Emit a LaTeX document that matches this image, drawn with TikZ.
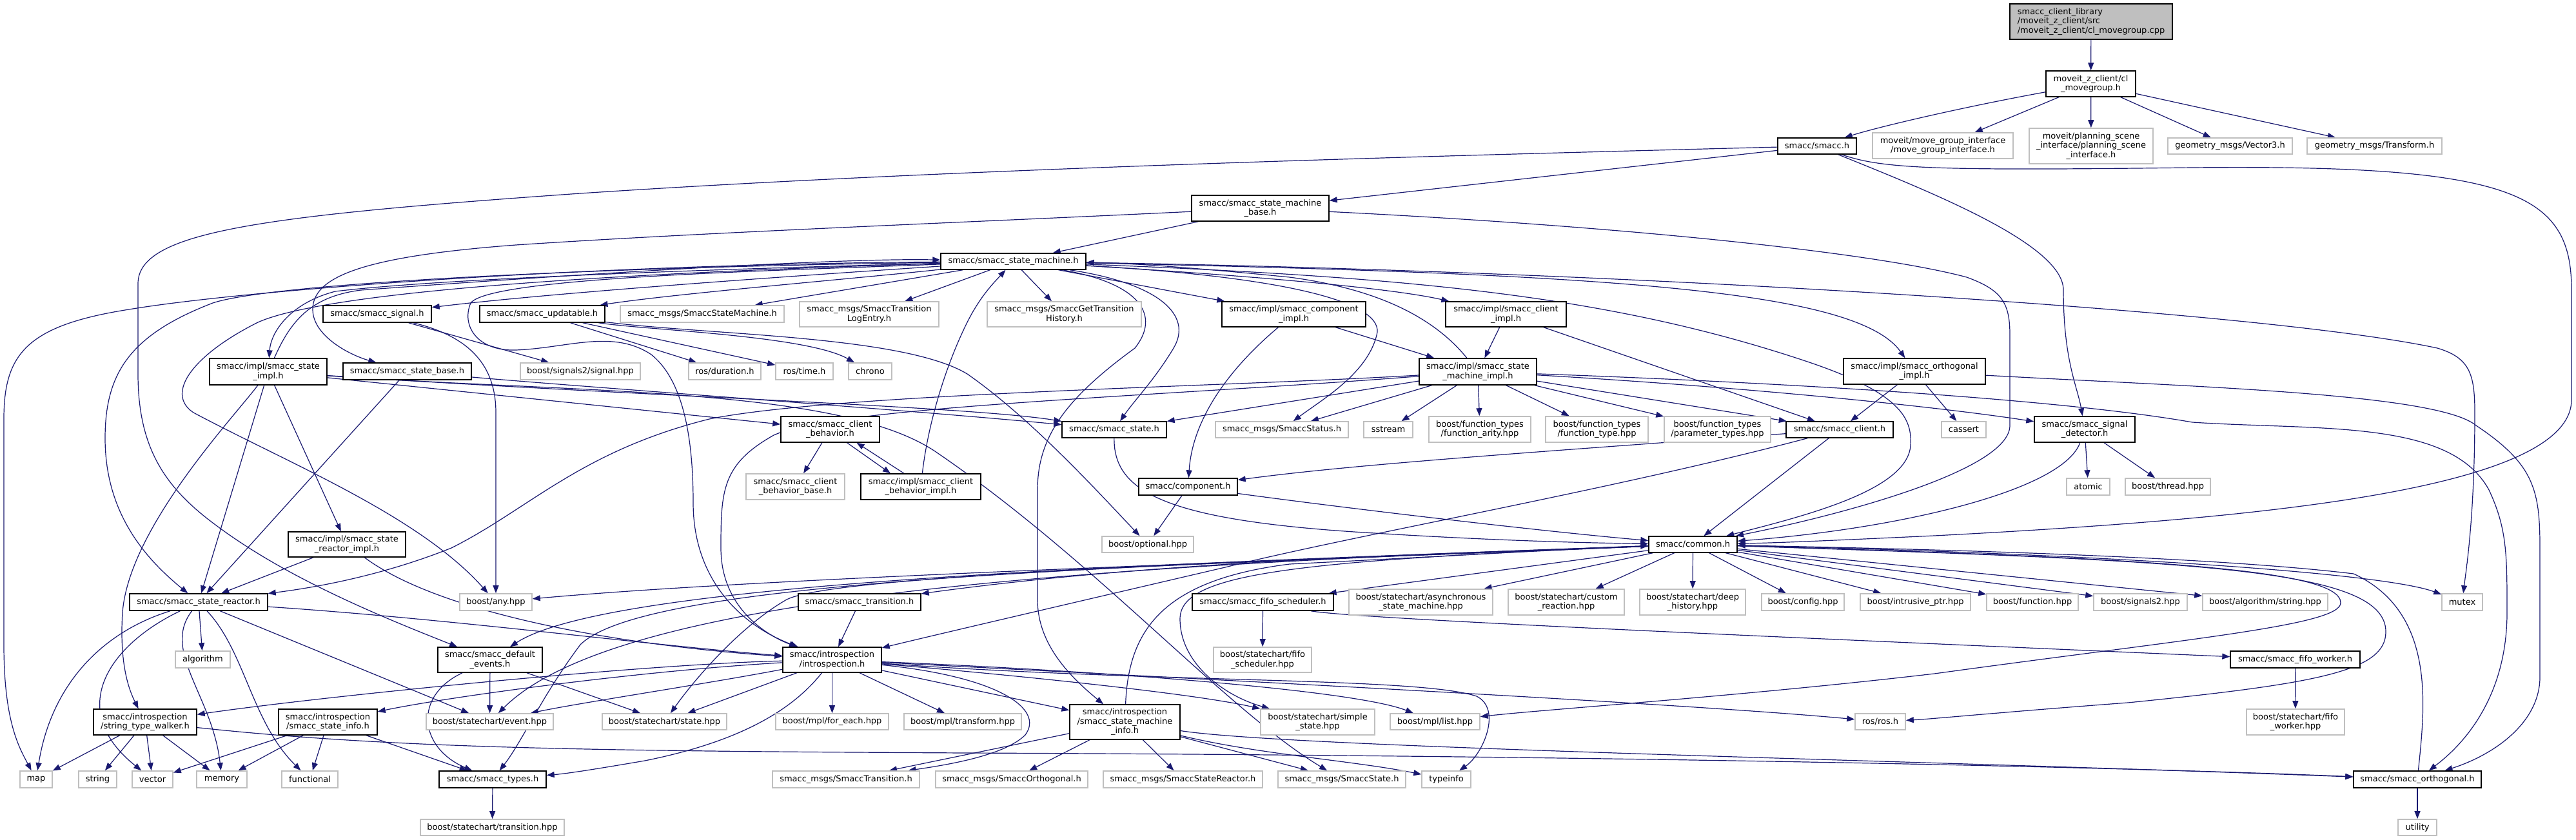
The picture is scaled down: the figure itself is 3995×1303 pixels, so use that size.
\documentclass[tikz,border=0pt]{standalone}
\usepackage{fontspec}
\setmainfont{DejaVu Sans}
\usetikzlibrary{arrows.meta}
\definecolor{edgec}{HTML}{191970}
\definecolor{greyb}{HTML}{BFBFBF}
\pgfdeclarelayer{background}
\pgfsetlayers{background,main}
\newcommand\nd[7]{%
 \pgfmathsetmacro\ndw{#5-#3}\pgfmathsetmacro\ndh{#6-#4}%
 \pgfmathsetmacro\ndx{(#3+#5)/2}\pgfmathsetmacro\ndy{(#4+#6)/2}%
 \node[#2,minimum width=\ndw pt,minimum height=\ndh pt] (#1) at (\ndx,\ndy) {#7};}
\begin{document}
\begin{tikzpicture}[x=1pt,y=-1pt,
  bx/.style={draw=black,line width=1.4pt,fill=white,inner sep=0pt,align=center,font=\fontsize{13pt}{14.5pt}\selectfont},
  gb/.style={draw=greyb,line width=1.6pt,fill=white,inner sep=0pt,align=center,font=\fontsize{13pt}{14.5pt}\selectfont},
  rootb/.style={draw=black,line width=1.4pt,fill=greyb,inner sep=0pt,align=left,font=\fontsize{13pt}{14.5pt}\selectfont},
  edg/.style={draw=edgec,line width=1.2pt,-{Triangle[length=12pt,width=9pt]}}]
\useasboundingbox (0,0) rectangle (3995,1303);
% nodes
\nd{root}{rootb}{3117}{6}{3369}{61}{smacc\_client\_library\\/moveit\_z\_client/src\\/moveit\_z\_client/cl\_movegroup.cpp}
\nd{clmg}{bx}{3173}{110}{3312}{150}{moveit\_z\_client/cl\\\_movegroup.h}
\nd{smacch}{bx}{2757}{214}{2879}{239}{smacc/smacc.h}
\nd{mgi}{gb}{2904}{206}{3122}{246}{moveit/move\_group\_interface\\/move\_group\_interface.h}
\nd{psi}{gb}{3147}{199}{3339}{254}{moveit/planning\_scene\\\_interface/planning\_scene\\\_interface.h}
\nd{vec}{gb}{3362}{214}{3555}{239}{geometry\_msgs/Vector3.h}
\nd{tf}{gb}{3578}{214}{3787}{239}{geometry\_msgs/Transform.h}
\nd{smb}{bx}{1848}{303}{2061}{343}{smacc/smacc\_state\_machine\\\_base.h}
\nd{sm}{bx}{1459}{393}{1684}{418}{smacc/smacc\_state\_machine.h}
\nd{signal}{bx}{501}{474}{669}{500}{smacc/smacc\_signal.h}
\nd{updatable}{bx}{744}{474}{938}{500}{smacc/smacc\_updatable.h}
\nd{ssm}{gb}{962}{474}{1216}{500}{smacc\_msgs/SmaccStateMachine.h}
\nd{tle}{gb}{1240}{468}{1456}{507}{smacc\_msgs/SmaccTransition\\LogEntry.h}
\nd{gth}{gb}{1531}{468}{1770}{507}{smacc\_msgs/SmaccGetTransition\\History.h}
\nd{compimpl}{bx}{1895}{468}{2118}{507}{smacc/impl/smacc\_component\\\_impl.h}
\nd{clientimpl}{bx}{2242}{468}{2429}{507}{smacc/impl/smacc\_client\\\_impl.h}
\nd{orthimpl}{bx}{2859}{556}{3079}{596}{smacc/impl/smacc\_orthogonal\\\_impl.h}
\nd{stateimpl}{bx}{325}{556}{507}{597}{smacc/impl/smacc\_state\\\_impl.h}
\nd{sbase}{bx}{532}{563}{731}{589}{smacc/smacc\_state\_base.h}
\nd{sig2}{gb}{807}{563}{993}{589}{boost/signals2/signal.hpp}
\nd{dur}{gb}{1068}{563}{1180}{589}{ros/duration.h}
\nd{time}{gb}{1203}{563}{1292}{589}{ros/time.h}
\nd{chrono}{gb}{1316}{563}{1383}{589}{chrono}
\nd{smi}{bx}{2201}{556}{2383}{597}{smacc/impl/smacc\_state\\\_machine\_impl.h}
\nd{cb}{bx}{1211}{646}{1364}{686}{smacc/smacc\_client\\\_behavior.h}
\nd{state}{bx}{1647}{654}{1809}{679}{smacc/smacc\_state.h}
\nd{status}{gb}{1885}{654}{2091}{679}{smacc\_msgs/SmaccStatus.h}
\nd{sstream}{gb}{2115}{654}{2191}{679}{sstream}
\nd{farity}{gb}{2216}{646}{2374}{686}{boost/function\_types\\/function\_arity.hpp}
\nd{ftype}{gb}{2397}{646}{2556}{686}{boost/function\_types\\/function\_type.hpp}
\nd{ptypes}{gb}{2581}{646}{2746}{686}{boost/function\_types\\/parameter\_types.hpp}
\nd{client}{bx}{2770}{654}{2936}{679}{smacc/smacc\_client.h}
\nd{cassert}{gb}{3011}{654}{3080}{679}{cassert}
\nd{sigdet}{bx}{3155}{646}{3311}{686}{smacc/smacc\_signal\\\_detector.h}
\nd{cbbase}{gb}{1157}{735}{1310}{775}{smacc/smacc\_client\\\_behavior\_base.h}
\nd{cbimpl}{bx}{1335}{735}{1521}{775}{smacc/impl/smacc\_client\\\_behavior\_impl.h}
\nd{component}{bx}{1766}{742}{1919}{768}{smacc/component.h}
\nd{atomic}{gb}{3205}{742}{3272}{768}{atomic}
\nd{thread}{gb}{3296}{742}{3428}{768}{boost/thread.hpp}
\nd{optional}{gb}{1709}{832}{1851}{857}{boost/optional.hpp}
\nd{common}{bx}{2557}{832}{2694}{857}{smacc/common.h}
\nd{sreactorimpl}{bx}{447}{825}{629}{864}{smacc/impl/smacc\_state\\\_reactor\_impl.h}
\nd{sreactor}{bx}{201}{921}{415}{947}{smacc/smacc\_state\_reactor.h}
\nd{any}{gb}{713}{921}{825}{947}{boost/any.hpp}
\nd{transition}{bx}{1238}{921}{1428}{947}{smacc/smacc\_transition.h}
\nd{fifosch}{bx}{1849}{921}{2068}{947}{smacc/smacc\_fifo\_scheduler.h}
\nd{async}{gb}{2092}{914}{2315}{954}{boost/statechart/asynchronous\\\_state\_machine.hpp}
\nd{custom}{gb}{2339}{914}{2519}{954}{boost/statechart/custom\\\_reaction.hpp}
\nd{deep}{gb}{2543}{914}{2707}{954}{boost/statechart/deep\\\_history.hpp}
\nd{config}{gb}{2732}{921}{2860}{947}{boost/config.hpp}
\nd{intrusive}{gb}{2885}{921}{3056}{947}{boost/intrusive\_ptr.hpp}
\nd{function}{gb}{3081}{921}{3223}{947}{boost/function.hpp}
\nd{signals}{gb}{3247}{921}{3392}{947}{boost/signals2.hpp}
\nd{algstr}{gb}{3416}{921}{3610}{947}{boost/algorithm/string.hpp}
\nd{mutex}{gb}{3787}{921}{3850}{947}{mutex}
\nd{algorithm}{gb}{272}{1010}{357}{1036}{algorithm}
\nd{defev}{bx}{679}{1004}{841}{1043}{smacc/smacc\_default\\\_events.h}
\nd{intro}{bx}{1214}{1004}{1367}{1043}{smacc/introspection\\/introspection.h}
\nd{fifoschhpp}{gb}{1882}{1004}{2034}{1043}{boost/statechart/fifo\\\_scheduler.hpp}
\nd{fifoworker}{bx}{3459}{1010}{3660}{1036}{smacc/smacc\_fifo\_worker.h}
\nd{walker}{bx}{145}{1100}{305}{1140}{smacc/introspection\\/string\_type\_walker.h}
\nd{sinfo}{bx}{432}{1100}{585}{1140}{smacc/introspection\\/smacc\_state\_info.h}
\nd{event}{gb}{661}{1107}{858}{1132}{boost/statechart/event.hpp}
\nd{statehpp}{gb}{934}{1107}{1127}{1132}{boost/statechart/state.hpp}
\nd{foreach}{gb}{1203}{1107}{1378}{1132}{boost/mpl/for\_each.hpp}
\nd{transformhpp}{gb}{1402}{1107}{1584}{1132}{boost/mpl/transform.hpp}
\nd{sminfo}{bx}{1659}{1093}{1830}{1147}{smacc/introspection\\/smacc\_state\_machine\\\_info.h}
\nd{simple}{gb}{1955}{1100}{2132}{1140}{boost/statechart/simple\\\_state.hpp}
\nd{list}{gb}{2156}{1107}{2295}{1132}{boost/mpl/list.hpp}
\nd{ros}{gb}{2877}{1107}{2955}{1132}{ros/ros.h}
\nd{fifoworkerhpp}{gb}{3484}{1100}{3636}{1140}{boost/statechart/fifo\\\_worker.hpp}
\nd{map}{gb}{31}{1196}{81}{1222}{map}
\nd{string}{gb}{122}{1196}{181}{1222}{string}
\nd{vector}{gb}{205}{1196}{268}{1222}{vector}
\nd{memory}{gb}{305}{1196}{383}{1222}{memory}
\nd{functional}{gb}{437}{1196}{524}{1222}{functional}
\nd{types}{bx}{681}{1196}{847}{1222}{smacc/smacc\_types.h}
\nd{smtrans}{gb}{1198}{1196}{1426}{1222}{smacc\_msgs/SmaccTransition.h}
\nd{smorth}{gb}{1451}{1196}{1687}{1222}{smacc\_msgs/SmaccOrthogonal.h}
\nd{smreactor}{gb}{1711}{1196}{1958}{1222}{smacc\_msgs/SmaccStateReactor.h}
\nd{smstate}{gb}{1982}{1196}{2180}{1222}{smacc\_msgs/SmaccState.h}
\nd{typeinfo}{gb}{2205}{1196}{2281}{1222}{typeinfo}
\nd{orth}{bx}{3650}{1196}{3848}{1222}{smacc/smacc\_orthogonal.h}
\nd{transhpp}{gb}{652}{1271}{875}{1296}{boost/statechart/transition.hpp}
\nd{utility}{gb}{3719}{1271}{3779}{1296}{utility}
\begin{pgfonlayer}{background}
\fill[white] (0,0) rectangle (3995,1303);
% top
\draw[edg] (root) -- (clmg);
\draw[edg] (clmg) .. controls (3050,165) and (2920,195) .. (smacch);
\draw[edg] (clmg) -- (mgi);
\draw[edg] (clmg) -- (psi);
\draw[edg] (clmg) -- (vec);
\draw[edg] (clmg) -- (tf);
\draw[edg] (smacch) -- (smb);
\draw[edg] (smacch) .. controls (2300,240) and (1500,260) .. (900,300) .. controls (400,335) and (214,360) .. (214,440) -- (214,580) .. controls (214,700) and (260,760) .. (338,817) .. controls (450,900) and (600,960) .. (defev);
\draw[edg] (smacch) .. controls (3000,300) and (3200,380) .. (3200,450) .. controls (3200,560) and (3222,600) .. (sigdet);
\draw[edg] (smacch) .. controls (2920,262) and (3000,265) .. (3400,260) .. controls (3900,255) and (3988,300) .. (3988,450) -- (3988,620) .. controls (3988,760) and (3500,805) .. (3000,831) .. controls (2850,838) and (2760,842) .. (common);
\draw[edg] (smb) -- (sm);
\draw[edg] (smb) .. controls (1500,345) and (1100,360) .. (800,380) .. controls (560,398) and (485,430) .. (485,480) .. controls (485,520) and (540,550) .. (sbase);
\draw[edg] (smb) .. controls (2500,350) and (2900,390) .. (3050,430) .. controls (3105,450) and (3117,470) .. (3117,520) -- (3117,660) .. controls (3117,730) and (2850,800) .. (common);
% state machine
\draw[edg] (sm) .. controls (1200,430) and (850,455) .. (signal);
\draw[edg] (sm) .. controls (1350,430) and (1050,455) .. (updatable);
\draw[edg] (sm) -- (ssm);
\draw[edg] (sm) -- (tle);
\draw[edg] (sm) -- (gth);
\draw[edg] (sm) -- (compimpl);
\draw[edg] (sm) .. controls (1900,425) and (2150,445) .. (clientimpl);
\draw[edg] (sm) .. controls (2500,425) and (2880,450) .. (orthimpl);
\draw[edg] (sm) .. controls (1200,415) and (700,430) .. (520,452) .. controls (450,470) and (420,515) .. (stateimpl);
\draw[edg] (sm) .. controls (1800,440) and (1850,490) .. (1820,540) .. controls (1790,590) and (1760,620) .. (state);
\draw[edg] (sm) .. controls (2000,430) and (2150,470) .. (2135,520) .. controls (2120,580) and (2050,620) .. (status);
\draw[edg] (sm) .. controls (1770,440) and (1800,490) .. (1760,540) .. controls (1650,620) and (1609,680) .. (1609,760) -- (1609,930) .. controls (1609,1000) and (1660,1050) .. (sminfo);
\draw[edg] (sm) .. controls (900,410) and (380,450) .. (200,480) .. controls (40,505) and (6,550) .. (6,650) -- (6,1000) .. controls (6,1120) and (30,1160) .. (map);
\draw[edg] (sm) .. controls (900,415) and (420,440) .. (330,470) .. controls (200,520) and (163,580) .. (163,680) .. controls (163,800) and (230,870) .. (sreactor);
\draw[edg] (sm) .. controls (900,425) and (500,455) .. (400,500) .. controls (300,550) and (255,610) .. (300,640) .. controls (450,720) and (650,800) .. (any);
\draw[edg] (sm) .. controls (2500,420) and (3500,480) .. (3780,540) .. controls (3830,555) and (3838,580) .. (3838,640) .. controls (3838,800) and (3825,880) .. (mutex);
\draw[edg] (sm) .. controls (2200,430) and (2500,460) .. (2800,560) .. controls (2950,610) and (2965,650) .. (2963,690) .. controls (2960,760) and (2800,800) .. (common);
\draw[edg] (sm) .. controls (1200,420) and (760,430) .. (730,470) .. controls (715,505) and (740,545) .. (800,543) .. controls (880,540) and (950,510) .. (1010,550) .. controls (1060,590) and (1075,680) .. (1075,780) .. controls (1075,900) and (1150,970) .. (intro);
\draw[edg] (smi) .. controls (2230,500) and (2150,450) .. (2000,430) .. controls (1850,415) and (1750,408) .. (sm);
\draw[edg] (stateimpl) .. controls (450,500) and (480,460) .. (560,450) .. controls (900,425) and (1300,400) .. (sm);
\draw[edg] (cbimpl) .. controls (1440,650) and (1470,560) .. (1500,500) .. controls (1520,460) and (1540,440) .. (sm);
% second row
\draw[edg] (signal) -- (sig2);
\draw[edg] (signal) .. controls (720,520) and (769,560) .. (769,640) -- (any);
\draw[edg] (updatable) -- (dur);
\draw[edg] (updatable) -- (time);
\draw[edg] (updatable) .. controls (1000,512) and (1250,520) .. (chrono);
\draw[edg] (updatable) .. controls (1100,520) and (1400,520) .. (1500,580) .. controls (1600,650) and (1700,760) .. (optional);
\draw[edg] (compimpl) .. controls (1920,560) and (1850,640) .. (component);
\draw[edg] (compimpl) -- (smi);
\draw[edg] (clientimpl) -- (smi);
\draw[edg] (clientimpl) -- (client);
\draw[edg] (orthimpl) -- (client);
\draw[edg] (orthimpl) -- (cassert);
\draw[edg] (orthimpl) .. controls (3400,600) and (3780,610) .. (3840,660) .. controls (3930,720) and (3939,760) .. (3939,850) -- (3939,1050) .. controls (3939,1120) and (3870,1170) .. (orth);
% state impl / base
\draw[edg] (stateimpl) .. controls (360,650) and (200,820) .. (190,950) .. controls (185,1030) and (200,1070) .. (walker);
\draw[edg] (stateimpl) -- (sreactor);
\draw[edg] (stateimpl) -- (sreactorimpl);
\draw[edg] (stateimpl) -- (cb);
\draw[edg] (stateimpl) .. controls (1000,615) and (1500,630) .. (state);
\draw[edg] (stateimpl) .. controls (900,610) and (1300,600) .. (1450,700) .. controls (1700,870) and (1900,1100) .. (smstate);
\draw[edg] (sbase) -- (sreactor);
\draw[edg] (sbase) .. controls (900,600) and (1400,635) .. (state);
% state machine impl
\draw[edg] (smi) -- (state);
\draw[edg] (smi) -- (status);
\draw[edg] (smi) -- (sstream);
\draw[edg] (smi) -- (farity);
\draw[edg] (smi) -- (ftype);
\draw[edg] (smi) -- (ptypes);
\draw[edg] (smi) -- (client);
\draw[edg] (smi) .. controls (2800,595) and (3200,620) .. (3400,655) .. controls (3600,668) and (3800,650) .. (3860,760) .. controls (3888,820) and (3888,860) .. (3888,950) .. controls (3888,1100) and (3800,1170) .. (orth);
\draw[edg] (smi) .. controls (2700,600) and (3000,630) .. (sigdet);
\draw[edg] (smi) .. controls (1900,600) and (1300,610) .. (1100,650) .. controls (900,700) and (820,790) .. (700,850) .. controls (600,890) and (500,910) .. (sreactor);
\draw[edg] (smi) .. controls (1800,615) and (1300,630) .. (1200,675) .. controls (1120,720) and (1118,760) .. (1118,850) .. controls (1118,950) and (1200,990) .. (intro);
% client behavior
\draw[edg] (cb) -- (cbbase);
\draw[edg] ([xshift=26pt]cb.south) -- ([xshift=-47pt]cbimpl.north);
\draw[edg] ([xshift=-26pt]cbimpl.north) -- ([xshift=41pt]cb.south);
\draw[edg] (state) .. controls (1727,760) and (1800,805) .. (2100,825) .. controls (2300,838) and (2450,842) .. (common);
\draw[edg] (component) -- (optional);
\draw[edg] (component) .. controls (2100,790) and (2400,825) .. (common);
\draw[edg] (client) -- (common);
\draw[edg] (client) .. controls (2400,700) and (2100,720) .. (component);
\draw[edg] (client) .. controls (2500,760) and (2100,830) .. (1900,880) .. controls (1600,950) and (1450,985) .. (intro);
\draw[edg] (sigdet) .. controls (3200,760) and (2950,820) .. (common);
\draw[edg] (sigdet) -- (atomic);
\draw[edg] (sigdet) -- (thread);
\draw[edg] (orth) .. controls (3760,1100) and (3780,950) .. (3650,890) .. controls (3400,860) and (2900,850) .. (common);
\draw[edg] (orth) -- (utility);
% common
\draw[edg] (common) .. controls (2000,870) and (1200,895) .. (any);
\draw[edg] (common) .. controls (2200,860) and (1800,870) .. (transition);
\draw[edg] (common) -- (fifosch);
\draw[edg] (common) -- (async);
\draw[edg] (common) -- (custom);
\draw[edg] (common) -- (deep);
\draw[edg] (common) -- (config);
\draw[edg] (common) -- (intrusive);
\draw[edg] (common) -- (function);
\draw[edg] (common) -- (signals);
\draw[edg] (common) -- (algstr);
\draw[edg] (common) .. controls (3300,860) and (3700,890) .. (mutex);
\draw[edg] (common) .. controls (1800,875) and (950,900) .. (defev);
\draw[edg] (common) .. controls (1600,880) and (950,930) .. (event);
\draw[edg] (common) .. controls (2000,870) and (1300,890) .. (1220,930) .. controls (1150,970) and (1080,1050) .. (statehpp);
\draw[edg] (common) .. controls (1700,880) and (1000,900) .. (900,1000) .. controls (840,1080) and (810,1150) .. (types);
\draw[edg] (common) .. controls (3300,865) and (3630,880) .. (3630,935) .. controls (3630,970) and (3400,990) .. (3000,1045) .. controls (2700,1080) and (2400,1100) .. (list);
\draw[edg] (common) .. controls (3400,870) and (3700,880) .. (3700,980) .. controls (3700,1040) and (3600,1060) .. (3300,1090) .. controls (3100,1105) and (3000,1115) .. (ros);
\draw[edg] (common) .. controls (2000,870) and (1830,890) .. (1830,960) .. controls (1830,1030) and (1900,1080) .. (simple);
% introspection
\draw[edg] (intro) -- (statehpp);
\draw[edg] (intro) -- (foreach);
\draw[edg] (intro) -- (transformhpp);
\draw[edg] (intro) -- (sminfo);
\draw[edg] (intro) .. controls (1550,1045) and (1850,1075) .. (simple);
\draw[edg] (intro) .. controls (1700,1040) and (2100,1070) .. (list);
\draw[edg] (intro) .. controls (1800,1050) and (2600,1090) .. (ros);
\draw[edg] (intro) .. controls (1550,1050) and (1620,1100) .. (1590,1140) .. controls (1560,1170) and (1480,1185) .. (smtrans);
\draw[edg] (intro) .. controls (1800,1060) and (2200,1050) .. (2290,1080) .. controls (2330,1100) and (2300,1170) .. (typeinfo);
\draw[edg] (intro) .. controls (1230,1100) and (1150,1150) .. (1000,1180) .. controls (930,1192) and (880,1200) .. (types);
\draw[edg] (intro) .. controls (1100,1060) and (900,1090) .. (event);
\draw[edg] (intro) .. controls (1000,1030) and (500,1080) .. (walker);
\draw[edg] (intro) .. controls (1000,1040) and (700,1080) .. (sinfo);
% walker, info
\draw[edg] (walker) -- (map);
\draw[edg] (walker) -- (string);
\draw[edg] (walker) -- (vector);
\draw[edg] (walker) -- (memory);
\draw[edg] (walker) .. controls (600,1160) and (900,1165) .. (1500,1168) .. controls (2500,1172) and (3300,1190) .. (orth);
\draw[edg] (sinfo) -- (vector);
\draw[edg] (sinfo) -- (memory);
\draw[edg] (sinfo) -- (functional);
\draw[edg] (sinfo) -- (types);
% reactor
\draw[edg] (sreactor) .. controls (160,980) and (80,1060) .. (map);
\draw[edg] (sreactor) .. controls (170,1000) and (100,1100) .. (vector);
\draw[edg] (sreactor) -- (algorithm);
\draw[edg] (sreactor) .. controls (250,1010) and (330,1080) .. (memory);
\draw[edg] (sreactor) .. controls (380,1010) and (390,1120) .. (functional);
\draw[edg] (sreactor) -- (event);
\draw[edg] (sreactor) .. controls (700,960) and (1000,1000) .. (intro);
\draw[edg] (sreactorimpl) -- (sreactor);
\draw[edg] (sreactorimpl) .. controls (680,950) and (950,1000) .. (intro);
\draw[edg] (defev) -- (event);
\draw[edg] (defev) -- (statehpp);
\draw[edg] (defev) .. controls (640,1080) and (650,1160) .. (types);
\draw[edg] (types) -- (transhpp);
% state machine info
\draw[edg] (sminfo) -- (smtrans);
\draw[edg] (sminfo) -- (smorth);
\draw[edg] (sminfo) -- (smreactor);
\draw[edg] (sminfo) -- (smstate);
\draw[edg] (sminfo) .. controls (1950,1170) and (2100,1180) .. (typeinfo);
\draw[edg] (sminfo) .. controls (2000,1160) and (3000,1180) .. (orth);
\draw[edg] (sminfo) .. controls (1750,980) and (1800,900) .. (2000,875) .. controls (2300,860) and (2450,850) .. (common);
% misc
\draw[edg] (transition) -- (intro);
\draw[edg] (fifosch) -- (fifoschhpp);
\draw[edg] (fifosch) .. controls (2100,960) and (2800,990) .. (fifoworker);
\draw[edg] (fifoworker) -- (fifoworkerhpp);
\end{pgfonlayer}
\end{tikzpicture}
\end{document}
